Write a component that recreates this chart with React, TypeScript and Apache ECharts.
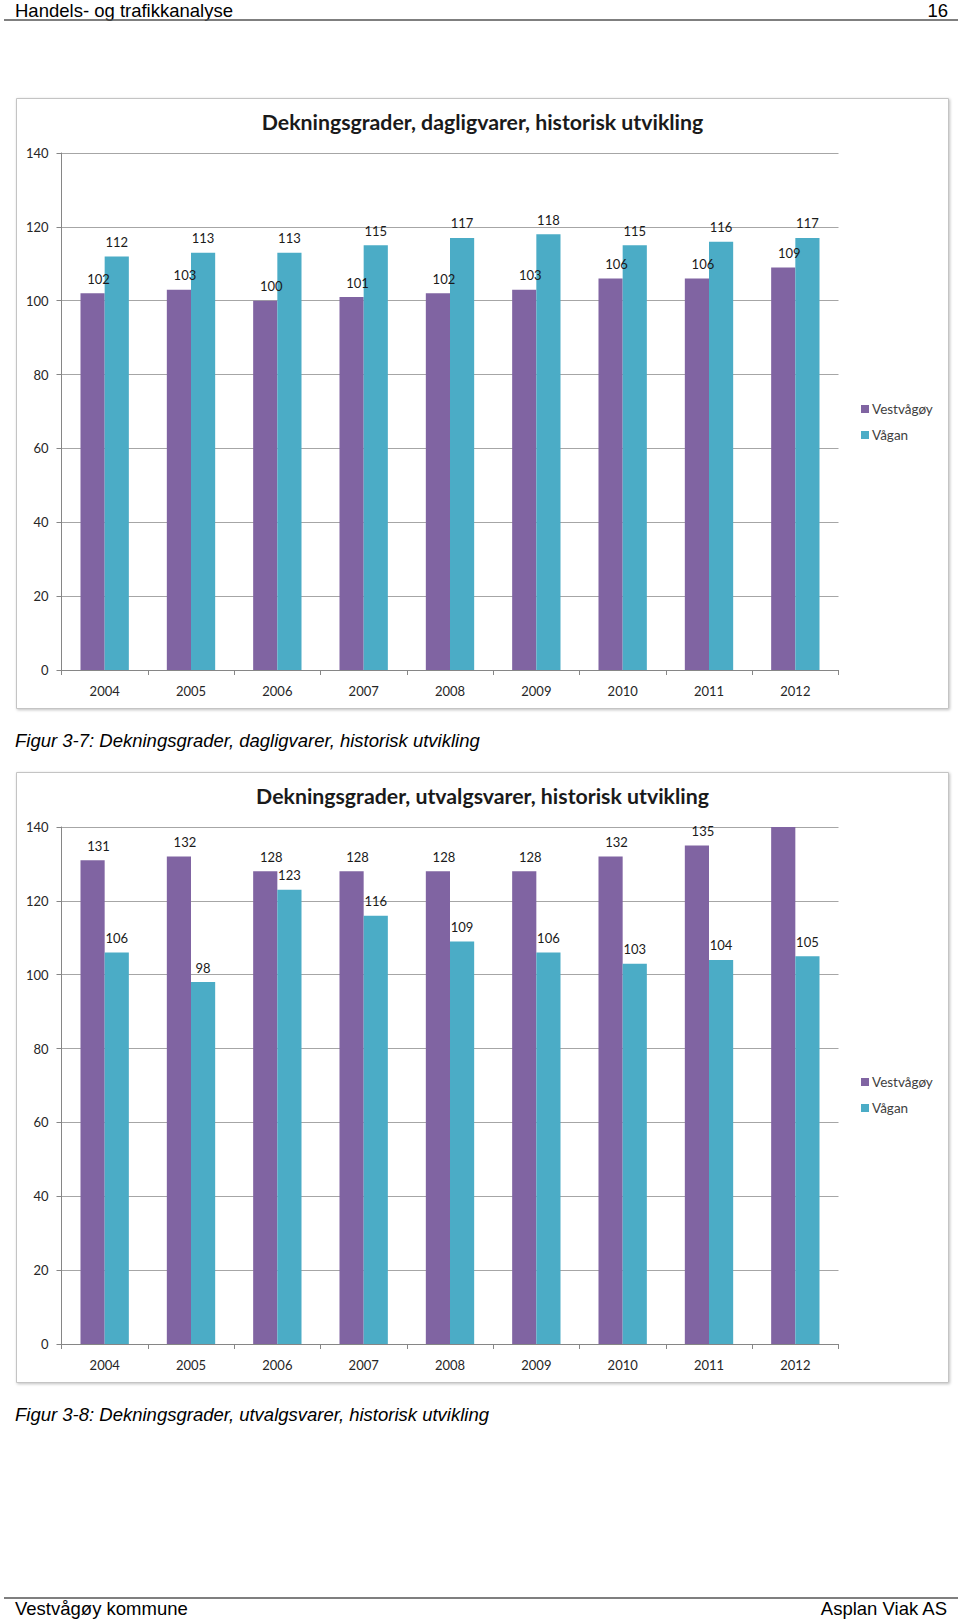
import React, { useEffect, useRef } from "react";
import * as echarts from "echarts";

const years = ["2004", "2005", "2006", "2007", "2008", "2009", "2010", "2011", "2012"];
const seriesNames = ["Vestvågøy", "Vågan"];
const daglig_vestvagoy = [102, 103, 100, 101, 102, 103, 106, 106, 109];
const daglig_vagan = [112, 113, 113, 115, 117, 118, 115, 116, 117];
const utvalg_vestvagoy = [131, 132, 128, 128, 128, 128, 132, 135, 141];
const utvalg_vagan = [106, 98, 123, 116, 109, 106, 103, 104, 105];
const hiddenLabelIndex = [8]; // bar exceeds axis max, label cut off in the original
const chartTitles = [
  "Dekningsgrader, dagligvarer, historisk utvikling",
  "Dekningsgrader, utvalgsvarer, historisk utvikling",
];
const captions = [
  "Figur 3-7: Dekningsgrader, dagligvarer, historisk utvikling",
  "Figur 3-8: Dekningsgrader, utvalgsvarer, historisk utvikling",
];

const PURPLE = "#8064A2";
const TEAL = "#4BACC6";
const CHART_FONT = "Lato, 'Open Sans', sans-serif";
const DOC_FONT = "'Liberation Sans', Arial, sans-serif";

export default function App() {
  const ref = useRef<HTMLDivElement>(null);
  useEffect(() => {
    if (!ref.current) return;
    const chart = echarts.init(ref.current, null, { renderer: "svg" });

    const frames = [98, 772];
    const gridTops = [153, 827];
    const gridH = 517;

    const labelBase = {
      show: true,
      position: "top",
      distance: 8,
      fontSize: 13,
      color: "#1a1a1a",
      fontFamily: CHART_FONT,
    };

    const mkData = (vals: number[], hide: number[]) =>
      vals.map((v, i) => (hide.includes(i) ? { value: v, label: { show: false } } : v));

    const grids = gridTops.map((t) => ({ left: 61.5, top: t, width: 777, height: gridH }));
    const xAxes = grids.map((_, i) => ({
      type: "category",
      gridIndex: i,
      data: years,
      axisLine: { show: true, lineStyle: { color: "#868686", width: 1 } },
      axisTick: { show: true, length: 5, lineStyle: { color: "#868686" } },
      axisLabel: { fontSize: 13, color: "#262626", margin: 14, fontFamily: CHART_FONT },
    }));
    const yAxes = grids.map((_, i) => ({
      type: "value",
      gridIndex: i,
      min: 0,
      max: 140,
      interval: 20,
      axisLine: { show: true, lineStyle: { color: "#868686", width: 1 } },
      axisTick: { show: true, length: 5, lineStyle: { color: "#868686" } },
      axisLabel: { fontSize: 13, color: "#262626", margin: 13, fontFamily: CHART_FONT },
      splitLine: { show: true, lineStyle: { color: "#A6A6A6", width: 1 } },
    }));

    const series: any[] = [];
    const datasets = [
      [daglig_vestvagoy, daglig_vagan, [] as number[]],
      [utvalg_vestvagoy, utvalg_vagan, hiddenLabelIndex],
    ];
    datasets.forEach((d, gi) => {
      series.push({
        type: "bar",
        name: seriesNames[0],
        xAxisIndex: gi,
        yAxisIndex: gi,
        data: mkData(d[0] as number[], d[2] as number[]),
        itemStyle: { color: PURPLE },
        barGap: "0%",
        barCategoryGap: "44%",
        label: { ...labelBase, offset: [6, 0] },
      });
      series.push({
        type: "bar",
        name: seriesNames[1],
        xAxisIndex: gi,
        yAxisIndex: gi,
        data: d[1],
        itemStyle: { color: TEAL },
        barGap: "0%",
        barCategoryGap: "44%",
        label: { ...labelBase },
      });
    });

    const legends = [397, 1070].map((top) => ({
      orient: "vertical",
      left: 856,
      top,
      itemWidth: 8,
      itemHeight: 8,
      itemGap: 12,
      icon: "rect",
      data: seriesNames,
      textStyle: { fontSize: 13.5, color: "#404040", fontFamily: CHART_FONT, padding: [0, 0, 0, -2] },
    }));

    const titles = chartTitles.map((t, i) => ({
      text: t,
      left: 477.5,
      textAlign: "center",
      top: frames[i] + 8,
      textStyle: { fontSize: 21.3, fontWeight: "bold", color: "#1a1a1a", fontFamily: CHART_FONT },
    }));

    const graphic: any[] = [
      // page header
      { type: "text", left: 15, top: 1, style: { text: "Handels- og trafikkanalyse", fontSize: 18.5, fontFamily: DOC_FONT, fill: "#000" } },
      { type: "text", right: 12, top: 1, style: { text: "16", fontSize: 18.5, fontFamily: DOC_FONT, fill: "#000" } },
      { type: "line", shape: { x1: 4, y1: 20, x2: 958, y2: 20 }, style: { stroke: "#555", lineWidth: 1.5 } },
      // footer
      { type: "line", shape: { x1: 4, y1: 1598, x2: 958, y2: 1598 }, style: { stroke: "#555", lineWidth: 1.5 } },
      { type: "text", left: 15, top: 1599, style: { text: "Vestvågøy kommune", fontSize: 18.5, fontFamily: DOC_FONT, fill: "#000" } },
      { type: "text", right: 12, top: 1599, style: { text: "Asplan Viak AS", fontSize: 18.5, fontFamily: DOC_FONT, fill: "#000" } },
    ];
    frames.forEach((fy, i) => {
      graphic.push({
        type: "rect",
        z: -10,
        shape: { x: 16.5, y: fy + 0.5, width: 932, height: 610 },
        style: { fill: "#fff", stroke: "#C4C4C4", lineWidth: 1, shadowBlur: 3, shadowColor: "rgba(0,0,0,0.25)", shadowOffsetX: 1, shadowOffsetY: 1 },
      });
      graphic.push({
        type: "text",
        left: 15,
        top: fy + 633,
        style: { text: captions[i], fontSize: 18.5, fontStyle: "italic", fontFamily: DOC_FONT, fill: "#000" },
      });
    });

    chart.setOption({
      animation: false,
      backgroundColor: "#fff",
      title: titles,
      legend: legends,
      grid: grids,
      xAxis: xAxes,
      yAxis: yAxes,
      series,
      graphic,
    });
    return () => chart.dispose();
  }, []);
  return (
    <div
      ref={ref}
      style={{ position: "absolute", left: 0, top: 0, width: 960, height: 1620 }}
    />
  );
}
